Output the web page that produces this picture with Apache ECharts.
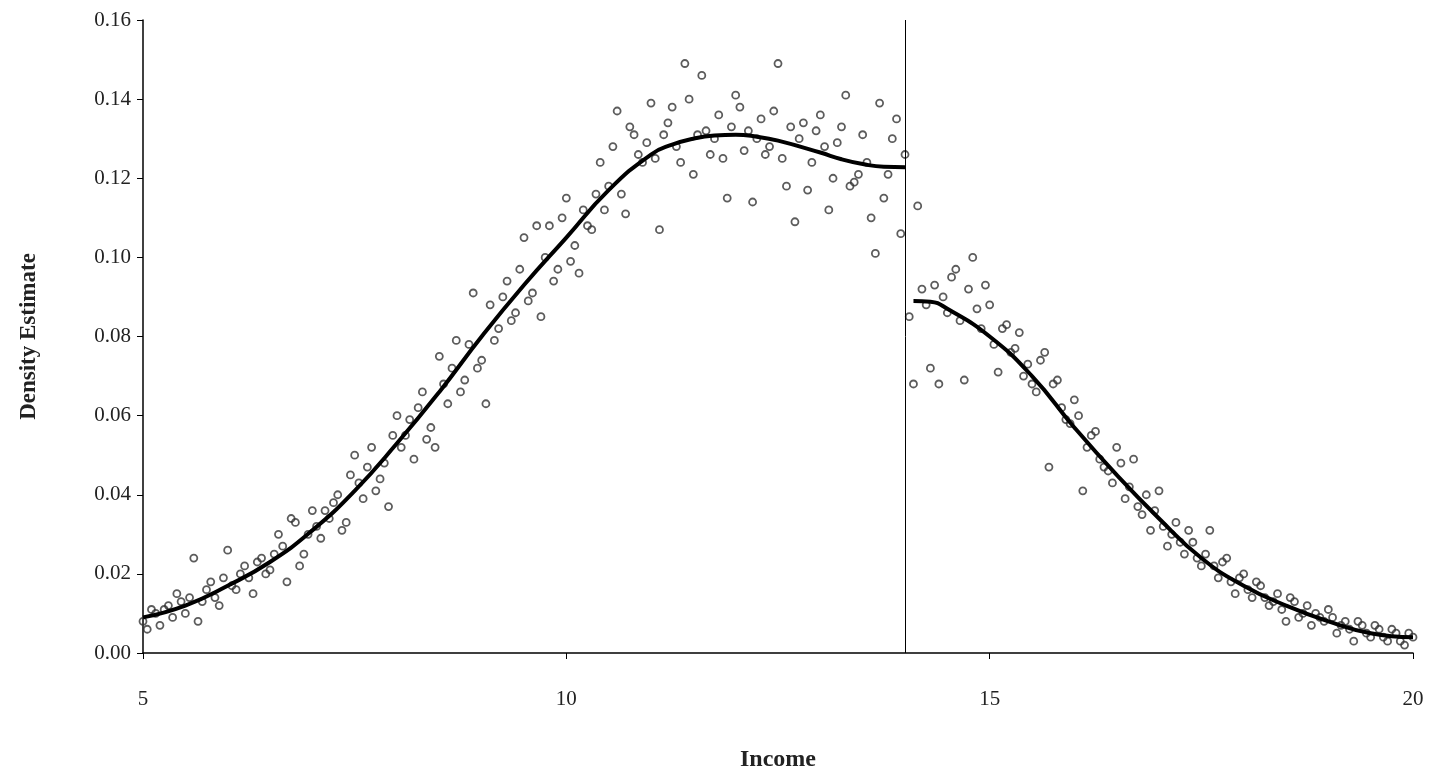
<!DOCTYPE html>
<html>
<head>
<meta charset="utf-8">
<script src="https://cdn.jsdelivr.net/npm/echarts@6/dist/echarts.min.js"></script>
<style>html,body{margin:0;padding:0;background:#fff}#chart{width:1432px;height:777px}</style>
</head>
<body>
<div id="chart"></div>
<script>
// 散点数据 (income, density)
var scatterX = [
  5.0,5.1,5.2,5.3,5.4,5.5,5.6,5.7,5.8,5.9,6.0,6.1,6.2,6.3,6.4,6.5,6.6,6.7,6.8,6.9,
  7.0,7.1,7.2,7.3,7.4,7.5,7.6,7.7,7.8,7.9,8.0,8.1,8.2,8.3,8.4,8.5,8.6,8.7,8.8,8.9,
  9.0,9.1,9.2,9.3,9.4,9.5,9.6,9.7,9.8,9.9,10.0,10.1,10.2,10.3,10.4,10.5,10.6,10.7,10.8,10.9,
  11.0,11.1,11.2,11.3,11.4,11.5,11.6,11.7,11.8,11.9,12.0,12.1,12.2,12.3,12.4,12.5,12.6,12.7,12.8,12.9,
  13.0,13.1,13.2,13.3,13.4,13.5,13.6,13.7,13.8,13.9,14.0,13.65,13.95,
  7.45,8.45,9.05,9.65,10.15,10.85,11.55,12.15,12.85,13.45,
  14.05,14.1,14.2,14.3,14.4,14.5,14.6,14.7,14.8,14.9,15.0,15.1,15.2,15.3,15.4,15.5,15.6,15.7,15.8,15.9,
  16.0,16.1,16.2,16.3,16.4,16.5,16.6,16.7,16.8,16.9,17.0,17.1,17.2,17.3,17.4,17.5,17.6,17.7,17.8,17.9,
  18.0,18.1,18.2,18.3,18.4,18.5,18.6,18.7,18.8,18.9,19.0,19.1,19.2,19.3,19.4,19.5,19.6,19.7,19.8,19.9,20.0,
  14.15,14.25,14.75,15.35,
  5.05,5.15,5.25,5.35,5.45,5.55,5.65,5.75,5.85,5.95,
  6.05,6.15,6.25,6.35,6.45,6.55,6.65,6.75,6.85,6.95,
  7.05,7.15,7.25,7.35,7.55,7.65,7.75,7.85,7.95,
  8.05,8.15,8.25,8.35,8.55,8.65,8.75,8.85,8.95,
  9.15,9.25,9.35,9.45,9.55,9.75,9.85,9.95,
  10.05,10.25,10.35,10.45,10.55,10.65,10.75,10.95,
  11.05,11.15,11.25,11.35,11.45,11.65,11.75,11.85,11.95,
  12.05,12.25,12.35,12.45,12.55,12.65,12.75,12.95,
  13.05,13.15,13.25,13.35,13.55,13.75,13.85,
  14.35,14.45,14.55,14.65,14.85,14.95,15.05,15.15,15.25,
  15.45,15.55,15.65,15.75,15.85,15.95,16.05,16.15,16.25,16.35,
  16.45,16.55,16.65,16.75,16.85,16.95,17.05,17.15,17.25,17.35,
  17.45,17.55,17.65,17.75,17.85,17.95,18.05,18.15,18.25,18.35,
  18.45,18.55,18.65,18.75,18.85,18.95,19.05,19.15,19.25,19.35,
  19.45,19.55,19.65,19.75,19.85,19.95
]
var scatterY = [
  .008,.011,.007,.012,.015,.010,.024,.013,.018,.012,.026,.016,.022,.015,.024,.021,.030,.018,.033,.025,
  .036,.029,.034,.040,.033,.050,.039,.052,.044,.037,.060,.055,.049,.066,.057,.075,.063,.079,.069,.091,
  .074,.088,.082,.094,.086,.105,.091,.085,.108,.097,.115,.103,.112,.107,.124,.118,.137,.111,.131,.124,
  .139,.107,.134,.128,.149,.121,.146,.126,.136,.115,.141,.127,.114,.135,.128,.149,.118,.109,.134,.124,
  .136,.112,.129,.141,.119,.131,.110,.139,.121,.135,.126,.101,.106,
  .045,.052,.063,.108,.096,.126,.131,.132,.117,.121,
  .085,.068,.092,.072,.068,.086,.097,.069,.100,.082,.088,.071,.083,.077,.070,.068,.074,.047,.069,.059,
  .064,.041,.055,.049,.046,.052,.039,.049,.035,.031,.041,.027,.033,.025,.028,.022,.031,.019,.024,.015,
  .020,.014,.017,.012,.015,.008,.013,.010,.007,.009,.011,.005,.008,.003,.007,.004,.006,.003,.005,.002,.004,
  .113,.088,.092,.081,
  .006,.010,.011,.009,.013,.014,.008,.016,.014,.019,
  .017,.020,.019,.023,.020,.025,.027,.034,.022,.030,
  .032,.036,.038,.031,.043,.047,.041,.048,.055,
  .052,.059,.062,.054,.068,.072,.066,.078,.072,
  .079,.090,.084,.097,.089,.100,.094,.110,
  .099,.108,.116,.112,.128,.116,.133,.129,
  .125,.131,.138,.124,.140,.132,.130,.125,.133,
  .138,.130,.126,.137,.125,.133,.130,.132,
  .128,.120,.133,.118,.124,.115,.130,
  .093,.090,.095,.084,.087,.093,.078,.082,.076,
  .073,.066,.076,.068,.062,.058,.060,.052,.056,.047,
  .043,.048,.042,.037,.040,.036,.032,.030,.028,.031,
  .024,.025,.022,.023,.018,.019,.016,.018,.014,.013,
  .011,.014,.009,.012,.010,.008,.009,.007,.006,.008,
  .005,.007,.004,.006,.003,.005
]
// 拟合曲线
var leftX = [5,5.5,6,6.5,7,7.5,8,8.5,9,9.5,10,10.5,11,11.25,11.5,11.75,12,12.25,12.5,13,13.25,13.5,13.75,14]
var leftY = [.009,.012,.017,.023,.031,.041,.053,.066,.080,.093,.105,.117,.126,.1285,.130,.1308,.131,.1305,.1295,.1265,.1248,.1236,.1229,.1228]
var rightX = [14.1,14.3,14.5,15,15.5,16,16.5,17,17.5,18,18.5,19,19.5,20]
var rightY = [.089,.0888,.087,.080,.070,.057,.045,.034,.024,.017,.012,.008,.005,.004]
var cutoff = 14

function pairs(xs, ys) { return xs.map(function (x, i) { return [x, ys[i]] }) }

var myChart = echarts.init(document.getElementById('chart'))
var font = 'Liberation Serif'
var option = {
  animation: false,
  grid: { left: 143, right: 19, top: 20, bottom: 122 },
  xAxis: {
    type: 'value', min: 5, max: 20, interval: 5,
    name: 'Income', nameLocation: 'middle', nameGap: 95,
    nameTextStyle: { fontFamily: font, fontWeight: 'bold', fontSize: 24, color: '#222' },
    axisLine: { lineStyle: { color: '#000', width: 1.5 } },
    axisTick: { show: true, length: 6, lineStyle: { color: '#000' } },
    axisLabel: { fontFamily: font, fontSize: 21, color: '#222', margin: 36 },
    splitLine: { show: false }
  },
  yAxis: {
    type: 'value', min: 0, max: 0.16, interval: 0.02,
    name: 'Density Estimate', nameLocation: 'middle', nameGap: 102,
    nameTextStyle: { fontFamily: font, fontWeight: 'bold', fontSize: 23, color: '#222' },
    axisLine: { show: true, lineStyle: { color: '#000', width: 1.5 } },
    axisTick: { show: true, length: 6, lineStyle: { color: '#000' } },
    axisLabel: { fontFamily: font, fontSize: 21, color: '#222', margin: 12,
      formatter: function (v) { return v.toFixed(2) } },
    splitLine: { show: false }
  },
  series: [
    {
      type: 'scatter', data: pairs(scatterX, scatterY), symbolSize: 7,
      itemStyle: { color: 'rgba(255,255,255,0)', borderColor: '#333', borderWidth: 1.8 },
      markLine: {
        silent: true, symbol: 'none', label: { show: false },
        lineStyle: { color: '#000', width: 1, type: 'solid' },
        data: [{ xAxis: cutoff }]
      }
    },
    { type: 'line', data: pairs(leftX, leftY), smooth: 0.5, showSymbol: false,
      lineStyle: { color: '#000', width: 4 } },
    { type: 'line', data: pairs(rightX, rightY), smooth: 0.5, showSymbol: false,
      lineStyle: { color: '#000', width: 4 } }
  ]
}
myChart.setOption(option)
</script>
</body>
</html>
